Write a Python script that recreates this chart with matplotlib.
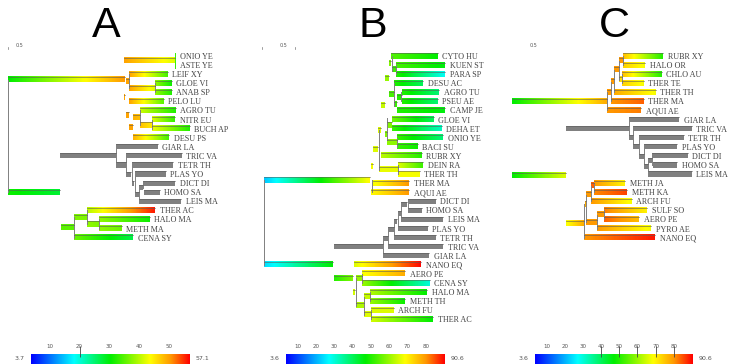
import matplotlib.pyplot as plt
import numpy as np
from matplotlib.colors import LinearSegmentedColormap, Normalize
from matplotlib.patches import Rectangle

# branch colour scale: blue -> cyan -> green -> yellow -> orange -> red
SCALE = LinearSegmentedColormap.from_list(
    "gc_scale",
    [(0.0, "#0000ff"), (0.27, "#00ffff"), (0.5, "#00ee00"),
     (0.75, "#ffff00"), (0.88, "#ff9900"), (1.0, "#ff0000")],
)

# value ranges of the three colour bars
RANGE_A = (3.7, 57.1)
RANGE_B = (3.6, 90.6)
RANGE_C = (3.6, 90.6)
TICKS_A = [10, 20, 30, 40, 50]
TICKS_B = [10, 20, 30, 40, 50, 60, 70, 80]
TICKS_C = [10, 20, 30, 40, 50, 60, 70, 80]
MARKS_A = [20]
MARKS_B = []
MARKS_C = [40, 50, 60, 70, 80]

# leaf branches: (name, row, start, end, value at start, value at end); None = no value (grey)
A_leaves = [
    ("ONIO YE", 0, 175, 175, 40, 40),
    ("ASTE YE", 1, 175, 175, 40, 40),
    ("LEIF XY", 2, 129, 168, 50, 34),
    ("GLOE VI", 3, 155, 172, 38, 31),
    ("ANAB SP", 4, 155, 172, 38, 32),
    ("PELO LU", 5, 129, 164, 50, 35),
    ("AGRO TU", 6, 140, 176, 41, 32),
    ("NITR EU", 7, 152, 175, 42, 33),
    ("BUCH AP", 8, 152, 190, 43, 32),
    ("DESU PS", 9, 133, 169, 49, 34),
    ("GIAR LA", 10, 116, 158, None, None),
    ("TRIC VA", 11, 126, 182, None, None),
    ("TETR TH", 12, 132, 173, None, None),
    ("PLAS YO", 13, 135, 166, None, None),
    ("DICT DI", 14, 143, 175, None, None),
    ("HOMO SA", 15, 144, 160, None, None),
    ("LEIS MA", 16, 139, 181, None, None),
    ("THER AC", 17, 87, 155, 40, 56),
    ("HALO MA", 18, 99, 150, 38, 31),
    ("METH MA", 19, 99, 122, 38, 36),
    ("CENA SY", 20, 74, 133, 36, 27),
]
# internal branches: (row, start, end, value at start, value at end)
A_inner = [
    (0.5, 124, 175, 50, 42),
    (2.6, 8, 125, 30.4, 50.5),
    (2.85, 126, 129, 50, 50),
    (3.55, 129, 155, 50, 42),
    (4.6, 123.5, 124.5, 50, 50),
    (6.5, 126, 129, 50, 50),
    (6.8, 133, 140, 49, 48),
    (7.6, 140, 152, 48, 45),
    (7.9, 129, 133, 50, 50),
    (11, 60, 116, None, None),
    (12, 116, 126, None, None),
    (13.1, 126, 131, None, None),
    (14, 132, 134, None, None),
    (14.5, 139, 143, None, None),
    (15, 8, 60, 31, 28),
    (15.25, 135, 139, None, None),
    (17.75, 74, 87, 37, 37),
    (18.5, 87, 99, 38, 37),
    (18.85, 61, 74, 35, 35),
]
# vertical connectors: (x, first row, last row, value)
A_links = [
    (8, 2.6, 15, None), (175, -0.3, 1.3, 33), (155, 3, 4, None),
    (152, 7, 8, None), (140, 6, 7.6, None), (129, 2, 3.55, None),
    (116, 10, 12, None), (126, 11, 13.1, None), (132, 12, 14, None),
    (135, 13, 15.25, None), (143, 14, 14.5, None), (139, 14.5, 16, None),
    (87, 17, 18.5, None), (99, 18, 19, None), (74, 17.75, 20, None),
]

B_leaves = [
    ("CYTO HU", 0, 141, 188, 54, 47),
    ("KUEN ST", 1, 146, 195, 53, 46),
    ("PARA SP", 2, 146, 195, 50, 28),
    ("DESU AC", 3, 144, 173, 50, 40),
    ("AGRO TU", 4, 152, 189, 50, 38),
    ("PSEU AE", 5, 152, 188, 50, 38),
    ("CAMP JE", 6, 147, 195, 50, 46),
    ("GLOE VI", 7, 142, 184, 57, 40),
    ("DEHA ET", 8, 142, 192, 52, 32),
    ("ONIO YE", 9, 147, 193, 52, 38),
    ("BACI SU", 10, 147, 168, 52, 48),
    ("RUBR XY", 11, 131, 172, 63, 50),
    ("DEIN RA", 12, 148, 173, 66, 52),
    ("THER TH", 13, 148, 170, 68, 68),
    ("THER MA", 14, 123, 159, 68, 80),
    ("AQUI AE", 15, 121, 159, 69, 80),
    ("DICT DI", 16, 158, 186, None, None),
    ("HOMO SA", 17, 158, 172, None, None),
    ("LEIS MA", 18, 151, 193, None, None),
    ("PLAS YO", 19, 148, 178, None, None),
    ("TETR TH", 20, 144, 186, None, None),
    ("TRIC VA", 21, 138, 193, None, None),
    ("GIAR LA", 22, 133, 179, None, None),
    ("NANO EQ", 23, 104, 171, 66, 90),
    ("AERO PE", 24, 112, 155, 68, 78),
    ("CENA SY", 25, 112, 180, 60, 30),
    ("HALO MA", 26, 120, 177, 62, 47),
    ("METH TH", 27, 120, 155, 60, 48),
    ("ARCH FU", 28, 121, 144, 66, 66),
    ("THER AC", 29, 121, 183, 65, 47),
]
B_inner = [
    (13.66, 14, 120, 22, 69),
    (23, 14, 83, 24, 47),
    (24.5, 84, 103, 50, 58),
    (24.5, 106, 112, 60, 60),
    (26, 103, 105, 65, 65),
    (26.5, 114, 120, 64, 64),
    (27.5, 106, 114, 62, 62),
    (28.5, 114, 121, 66, 66),
    (16.4, 151, 157, None, None),
    (17.3, 148, 151, None, None),
    (18.2, 144, 147, None, None),
    (19.1, 138, 144, None, None),
    (20.05, 133, 138, None, None),
    (21, 84, 133, None, None),
    (0.8, 139, 141, 58, 58),
    (1.5, 142, 146, 52, 52),
    (2.5, 135, 139, 60, 60),
    (4.2, 139, 144, 53, 53),
    (4.6, 147, 152, 50, 50),
    (5.3, 144, 147, 52, 52),
    (5.5, 131, 135, 64, 64),
    (7.6, 137, 142, 58, 58),
    (8.2, 128, 131, 66, 66),
    (8.6, 135, 137, 58, 58),
    (9.5, 137, 147, 59, 59),
    (10.3, 123, 128, 66, 66),
    (12.2, 121, 123, 68, 68),
    (12.5, 129, 148, 67, 67),
]
B_links = [
    (14, 13.66, 23, None), (142, 0, 1.7, None), (146, 1, 2, None),
    (144, 3, 5.5, None), (151, 4, 5, None), (137, 6.8, 9.3, None),
    (129, 8.2, 12.6, None), (147, 9, 10, None), (148, 12, 13, None),
    (122, 13.66, 15, None),
    (133, 20, 22, None), (138, 19.1, 21, None), (144, 18.2, 20, None),
    (148, 17.3, 19, None), (151, 16.4, 18, None), (158, 16, 17, None),
    (106, 24.5, 27.5, None), (112, 24, 25, None), (114, 26.5, 28.5, None),
    (120, 26, 27, None), (121, 28, 29, None),
]

C_leaves = [
    ("RUBR XY", 0, 123, 163, 76, 50),
    ("HALO OR", 1, 123, 145, 74, 68),
    ("CHLO AU", 2, 122, 162, 76, 50),
    ("THER TE", 3, 122, 144, 74, 68),
    ("THER TH", 4, 114, 156, 78, 68),
    ("THER MA", 5, 111, 144, 80, 84),
    ("AQUI AE", 6, 107, 141, 80, 82),
    ("GIAR LA", 7, 129, 179, None, None),
    ("TRIC VA", 8, 133, 192, None, None),
    ("TETR TH", 9, 139, 184, None, None),
    ("PLAS YO", 10, 144, 177, None, None),
    ("DICT DI", 11, 152, 188, None, None),
    ("HOMO SA", 12, 153, 177, None, None),
    ("LEIS MA", 13, 148, 192, None, None),
    ("METH JA", 14, 94, 125, 80, 70),
    ("METH KA", 15, 94, 127, 81, 86),
    ("ARCH FU", 16, 91, 132, 80, 68),
    ("SULF SO", 17, 104, 147, 82, 70),
    ("AERO PE", 18, 104, 139, 84, 76),
    ("PYRO AE", 19, 97, 151, 80, 68),
    ("NANO EQ", 20, 84, 155, 80, 89),
]
C_inner = [
    (0.5, 119, 123, 80, 80),
    (1.5, 114, 119, 80, 80),
    (2.6, 119, 122, 72, 72),
    (2.85, 111, 114, 80, 80),
    (4, 107, 111, 80, 80),
    (5, 12, 107, 47, 78),
    (8, 66, 129, None, None),
    (9, 129, 133, None, None),
    (10, 133, 139, None, None),
    (11.1, 139, 144, None, None),
    (11.5, 148, 152, None, None),
    (12.2, 144, 148, None, None),
    (13.2, 12, 66, 47, 66),
    (14.3, 91, 94, 84, 84),
    (15.3, 86, 91, 80, 80),
    (16.3, 85, 86, 78, 78),
    (17.5, 97, 104, 80, 80),
    (18.4, 66, 84, 68, 78),
    (18.3, 86, 97, 80, 80),
]
C_links = [
    (123, 0, 1, None), (119, 0.5, 2.6, None), (114, 1.5, 4, None),
    (122, 2, 3, None), (111, 2.85, 5, None), (107, 4, 6, None),
    (129, 7, 9, None), (133, 8, 10, None), (139, 9, 11.1, None),
    (144, 10, 12.2, None), (148, 11.5, 13, None), (152, 11, 12, None),
    (84, 16.3, 20, None), (94, 14, 15, None), (91, 14.3, 16, None),
    (86, 15.3, 18.3, None), (104, 17, 18, None), (97, 17.5, 19, None),
]

W, H = 730, 364          # canvas in pixels
ROW0, ROW_H = 56, 9.08   # first leaf row and row spacing, pixels
BAR_H = 0.56             # branch thickness in rows
GREY = "#808080"
EDGE = "#5a5a5a"
LABEL_FONT = ["Liberation Serif", "DejaVu Serif"]

fig = plt.figure(figsize=(W / 100, H / 100), dpi=100)


def tree_axes(left, width):
    ax = fig.add_axes([left / W, 0, width / W, 1])
    ax.set_xlim(0, width)
    ax.set_ylim((H - ROW0) / ROW_H, -ROW0 / ROW_H)
    ax.axis("off")
    return ax


def draw_branch(ax, norm, row, x0, x1, c0, c1):
    if x1 <= x0:
        return
    top, bottom = row - BAR_H / 2, row + BAR_H / 2
    if c0 is None:
        ax.add_patch(Rectangle((x0, top), x1 - x0, BAR_H, color=GREY, lw=0))
    else:
        grad = np.linspace(c0, c1, 64)[None, :]
        ax.imshow(grad, cmap=SCALE, norm=norm, extent=(x0, x1, bottom, top),
                  aspect="auto", interpolation="bilinear")
    ax.plot([x0, x1], [top, top], color=EDGE, lw=0.5, alpha=0.8)


def draw_tree(left, width, vrange, leaves, inner, links):
    ax = tree_axes(left, width)
    norm = Normalize(*vrange)
    for x, r0, r1, c in links:
        col = GREY if c is None else SCALE(norm(c))
        ax.plot([x, x], [r0, r1], color=col, lw=0.7)
    for row, x0, x1, c0, c1 in inner:
        draw_branch(ax, norm, row, x0, x1, c0, c1)
    for name, row, x0, x1, c0, c1 in leaves:
        draw_branch(ax, norm, row, x0, x1, c0, c1)
        ax.text(x1 + 4.5, row, name, fontsize=5.9, family=LABEL_FONT,
                color="#444444", ha="left", va="center_baseline")
    ax.set_xlim(0, width)
    ax.set_ylim((H - ROW0) / ROW_H, -ROW0 / ROW_H)
    return ax


def scale_bar(ax, text_x, ticks):
    ax.text(text_x, -1.2, "0.5", fontsize=3.5, color="#555555",
            ha="center", va="center")
    for x in ticks:
        ax.plot([x, x], [-1.0, -0.8], color="#777777", lw=0.5)


def colour_bar(left, right, vrange, ticks, marks):
    ax = fig.add_axes([left / W, 1 - 363.5 / H, (right - left) / W, 9.5 / H])
    ax.imshow(np.linspace(vrange[0], vrange[1], 256)[None, :], cmap=SCALE,
              norm=Normalize(*vrange), extent=(vrange[0], vrange[1], 0, 1),
              aspect="auto")
    ax.set_xlim(*vrange)
    ax.set_ylim(0, 1)
    ax.xaxis.tick_top()
    ax.set_xticks(ticks)
    ax.tick_params(axis="x", length=0, pad=3.5, labelsize=4, labelcolor="#555555")
    ax.set_yticks([])
    for s in ax.spines.values():
        s.set_visible(False)
    if marks:
        ax.vlines(marks, 0.65, 1.8, color="#444444", lw=0.6, clip_on=False)
    ax.annotate(f"{vrange[0]}", (0, 0.5), xycoords="axes fraction",
                xytext=(-5, 0), textcoords="offset points", ha="right",
                va="center", fontsize=4.5, color="#555555")
    ax.annotate(f"{vrange[1]}", (1, 0.5), xycoords="axes fraction",
                xytext=(4, 0), textcoords="offset points", ha="left",
                va="center", fontsize=4.5, color="#555555")


ax_a = draw_tree(0, 250, RANGE_A, A_leaves, A_inner, A_links)
ax_b = draw_tree(250, 250, RANGE_B, B_leaves, B_inner, B_links)
ax_c = draw_tree(500, 230, RANGE_C, C_leaves, C_inner, C_links)
scale_bar(ax_a, 20, [8])
scale_bar(ax_b, 33, [12, 45])
scale_bar(ax_c, 33, [])

for x, letter in [(106, "A"), (373, "B"), (614, "C")]:
    fig.text(x / W, 1 - 26 / H, letter, fontsize=31, ha="center", va="center",
             family=["Liberation Sans", "DejaVu Sans"])

colour_bar(31, 190, RANGE_A, TICKS_A, MARKS_A)
colour_bar(286, 445, RANGE_B, TICKS_B, MARKS_B)
colour_bar(535, 693, RANGE_C, TICKS_C, MARKS_C)

fig.savefig("out.png", dpi=100)
